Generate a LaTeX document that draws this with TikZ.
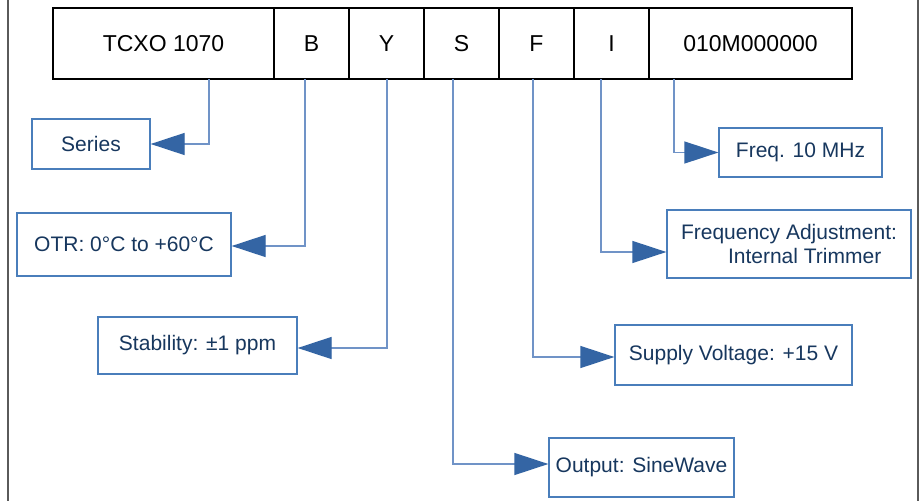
\documentclass[tikz,border=0pt]{standalone}
\usepackage{fontspec}
\setmainfont{Liberation Sans}
\usetikzlibrary{arrows.meta}
\definecolor{txtblue}{HTML}{17375E}
\definecolor{boxblue}{HTML}{4A7EBB}
\definecolor{linblue}{HTML}{7093C7}
\definecolor{headblue}{HTML}{3465A4}
\definecolor{framegray}{HTML}{5A5A5A}
\begin{document}
\begin{tikzpicture}[x=1pt,y=-1pt,
  cell/.style={draw=black,line width=1.5pt,minimum height=71pt,inner sep=0pt,font=\fontsize{23}{27}\selectfont},
  lbl/.style={draw=boxblue,line width=1.3pt,text=txtblue,inner sep=0pt,font=\fontsize{21}{24}\selectfont},
  conn/.style={draw=linblue,line width=1.3pt,-{Triangle[length=34pt,width=22pt,color=headblue]}},
  frame/.style={draw=framegray,line width=1.5pt}]
\useasboundingbox (0,0) rectangle (922,501);
\fill[white] (0,0) rectangle (922,501);
% frame lines
\draw[frame] (8,0) -- (8,501);
\draw[frame] (918,0) -- (918,501);
% top cells
\node[cell,minimum width=221pt] (tcxo) at (163.5,43.5) {TCXO 1070};
\node[cell,minimum width=75pt] (b) at (311.5,43.5) {B};
\node[cell,minimum width=75pt] (y) at (386.5,43.5) {Y};
\node[cell,minimum width=75pt] (s) at (461.5,43.5) {S};
\node[cell,minimum width=75pt] (f) at (536.5,43.5) {F};
\node[cell,minimum width=75pt] (i) at (611.5,43.5) {I};
\node[cell,minimum width=203pt] (freqcode) at (750.5,43.5) {010M000000};
% labels
\node[lbl,minimum width=118pt,minimum height=50pt] (series) at (91,144) {Series};
\node[lbl,minimum width=214pt,minimum height=63pt] (otr) at (124,244.5) {OTR: 0°C to +60°C};
\node[lbl,minimum width=199pt,minimum height=57pt] (stab) at (197.5,345.5) {Stability: ±1 ppm};
\node[lbl,minimum width=185pt,minimum height=59pt] (out) at (641.5,467.5) {Output: SineWave};
\node[lbl,minimum width=237pt,minimum height=60pt] (supply) at (733.5,355) {Supply Voltage: +15 V};
\node[lbl,minimum width=163pt,minimum height=49pt] (freq) at (800.5,152.5) {Freq. 10 MHz};
\node[lbl,minimum width=244pt,minimum height=68pt,align=left] (fadj) at (789,244) {Frequency Adjustment:\\\hspace*{47pt}Internal Trimmer};
% connector start points
\coordinate (c1) at (209,79);
\coordinate (c2) at (305,79);
\coordinate (c3) at (387,79);
\coordinate (c4) at (453,79);
\coordinate (c5) at (533,79);
\coordinate (c6) at (601,79);
\coordinate (c7) at (674,79);
% connectors
\draw[conn] (c1) |- (series.east);
\draw[conn] (c2) |- ([yshift=-1.5pt]otr.east);
\draw[conn] (c3) |- ([yshift=-2.5pt]stab.east);
\draw[conn] (c4) |- ([yshift=3.5pt]out.west);
\draw[conn] (c5) |- ([yshift=-2pt]supply.west);
\draw[conn] (c6) |- ([yshift=-8pt]fadj.west);
\draw[conn] (c7) |- (freq.west);
\end{tikzpicture}
\end{document}
